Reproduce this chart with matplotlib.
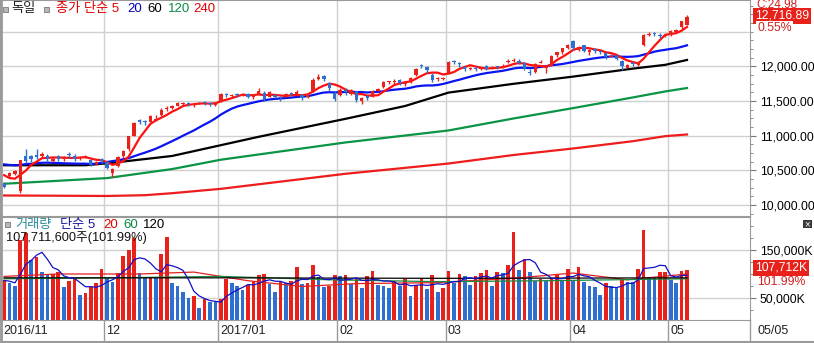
import numpy as np
import pandas as pd
import matplotlib
matplotlib.use("Agg")
import matplotlib.pyplot as plt
from matplotlib.patches import Rectangle
from matplotlib.lines import Line2D
from matplotlib.ticker import FixedLocator, MultipleLocator, FuncFormatter

plt.rcParams["font.family"] = ["Liberation Sans", "Noto Sans CJK KR"]

W, H = 814, 343

# ---- data (DAX daily, 2016-11-04 .. 2017-05-05) ----
month_labels = ["2016/11", "12", "2017/01", "02", "03", "04", "05"]
month_start = [0, 19, 40, 62, 82, 105, 123]
last_date = "05/05"

prior_close = [10624, 10577, 10523, 10414, 10580, 10504, 10631, 10645, 10701, 10711,
               10761, 10757, 10709, 10717, 10696, 10665, 10526, 10370, 10325]

open_ = [10300, 10420, 10450, 10200, 10710, 10700, 10720, 10700, 10710, 10640,
         10700, 10660, 10740, 10710, 10670, 10680, 10650, 10590, 10660,
         10620, 10460, 10560, 10700, 10800, 11000, 11220, 11210, 11200, 11230,
         11300, 11380, 11400, 11430, 11450, 11470, 11440, 11460, 11490, 11470, 11440,
         11500, 11600, 11570, 11600, 11580, 11600, 11560, 11600, 11620, 11560,
         11590, 11560, 11560, 11610, 11600, 11580, 11560, 11640, 11820, 11860,
         11760, 11620,
         11590, 11660, 11600, 11640, 11500, 11570, 11560, 11650, 11700, 11770,
         11780, 11800, 11740, 11780, 11870, 12000, 11990, 11880, 11810, 11810,
         11900, 12070, 12040, 11990, 11960, 11980, 11960, 12000, 11970, 11990,
         11990, 12060, 12080, 12080, 12050, 11920, 11920, 12050, 11980, 12010,
         12160, 12210, 12270,
         12360, 12240, 12300, 12200, 12250, 12220, 12190, 12140, 12150, 12080,
         11980, 12040, 12020, 12300, 12450, 12480, 12450, 12430,
         12450, 12500, 12560, 12600]
high = [10330, 10480, 10500, 10650, 10800, 10720, 10800, 10760, 10740, 10690,
        10720, 10710, 10760, 10730, 10700, 10720, 10660, 10640, 10680,
        10640, 10530, 10700, 10790, 11000, 11200, 11240, 11230, 11300, 11290,
        11400, 11430, 11440, 11480, 11490, 11480, 11460, 11490, 11500, 11480, 11490,
        11610, 11620, 11600, 11620, 11620, 11610, 11600, 11680, 11640, 11640,
        11600, 11570, 11620, 11630, 11660, 11600, 11610, 11830, 11890, 11870,
        11770, 11640,
        11680, 11680, 11670, 11650, 11560, 11580, 11660, 11690, 11790, 11790,
        11810, 11810, 11770, 11840, 11980, 12030, 12000, 11900, 11840, 11850,
        12080, 12090, 12060, 12000, 11990, 12000, 11990, 12020, 12010, 12010,
        12030, 12110, 12120, 12100, 12060, 11960, 12050, 12090, 12010, 12160,
        12210, 12270, 12320,
        12375, 12290, 12310, 12250, 12260, 12240, 12200, 12180, 12170, 12090,
        12030, 12070, 12080, 12470, 12490, 12500, 12480, 12470,
        12520, 12540, 12660, 12740]
low = [10240, 10400, 10430, 10174, 10600, 10620, 10660, 10680, 10630, 10620,
       10640, 10640, 10680, 10640, 10650, 10670, 10560, 10570, 10600,
       10520, 10400, 10540, 10680, 10780, 10990, 11160, 11150, 11190, 11210,
       11280, 11350, 11380, 11420, 11440, 11430, 11410, 11450, 11440, 11420, 11430,
       11480, 11560, 11540, 11560, 11570, 11540, 11530, 11580, 11500, 11550,
       11540, 11500, 11550, 11570, 11590, 11510, 11540, 11630, 11800, 11790,
       11650, 11500,
       11570, 11590, 11590, 11490, 11460, 11510, 11550, 11640, 11690, 11740,
       11750, 11730, 11720, 11760, 11860, 11970, 11900, 11780, 11790, 11800,
       11890, 12030, 11990, 11930, 11940, 11930, 11940, 11940, 11960, 11960,
       11970, 12040, 12060, 12030, 11950, 11880, 11910, 12040, 11910, 12000,
       12140, 12180, 12250,
       12240, 12220, 12200, 12160, 12190, 12180, 12100, 12130, 12090, 11950,
       11970, 12000, 12010, 12290, 12440, 12440, 12410, 12420,
       12440, 12480, 12540, 12590]
close = [10259, 10456, 10482, 10646, 10630, 10668, 10693, 10735, 10664, 10663,
         10665, 10685, 10713, 10662, 10689, 10700, 10582, 10620, 10640,
         10534, 10513, 10684, 10775, 10987, 11179, 11203, 11190, 11284, 11244,
         11366, 11404, 11427, 11464, 11468, 11456, 11449, 11472, 11475, 11451, 11481,
         11598, 11584, 11585, 11584, 11599, 11563, 11583, 11646, 11522, 11629,
         11555, 11541, 11599, 11599, 11630, 11545, 11595, 11806, 11848, 11814,
         11681, 11535,
         11659, 11627, 11651, 11509, 11549, 11543, 11643, 11666, 11774, 11771,
         11794, 11757, 11757, 11827, 11967, 11998, 11947, 11804, 11822, 11834,
         12067, 12059, 12027, 11958, 11967, 11967, 11978, 11963, 11990, 11988,
         12009, 12083, 12095, 12052, 11962, 11904, 12039, 12064, 11996, 12149,
         12203, 12257, 12313,
         12257, 12282, 12218, 12230, 12225, 12200, 12139, 12154, 12109, 12000,
         12017, 12027, 12049, 12455, 12468, 12472, 12443, 12438,
         12507, 12527, 12648, 12717]

# long price averages (bar index, value)
ma60_idx = [0, 15, 20, 31, 47, 63, 74, 82, 94, 105, 116, 122, 126]
ma60_val = [10572, 10572, 10608, 10706, 10983, 11242, 11427, 11620, 11747, 11851, 11966, 12021, 12091]
ma120_idx = [0, 19, 31, 40, 63, 82, 94, 105, 116, 122, 126]
ma120_val = [10305, 10387, 10517, 10652, 10901, 11074, 11247, 11397, 11550, 11637, 11686]
ma240_idx = [0, 19, 26, 31, 40, 63, 82, 94, 105, 116, 122, 126]
ma240_val = [10136, 10129, 10140, 10169, 10232, 10449, 10597, 10720, 10814, 10919, 10992, 11016]

# volume in thousand shares
prior_vol = [88000, 92000, 84000, 81000]
volume = [87500, 80600, 75000, 170800, 185400, 129000, 136000, 104800, 98000, 99500,
          104800, 73500, 86000, 91600, 56000, 61000, 73000, 81000, 110000,
          91600, 84000, 102700, 137500, 150000, 175000, 102700, 91600, 94400, 91600,
          141600, 177700, 80600, 75000, 63100, 49300, 54200, 29900, 47300, 42300, 41000,
          47300, 88900, 81900, 75000, 66700, 77100, 86000, 97900, 99000, 79200,
          63100, 84000, 80600, 86000, 115300, 79200, 81000, 118700, 94400, 72300,
          75000, 97900,
          96000, 97900, 79200, 88900, 71500, 95800, 106200, 77100, 76000, 71500,
          86000, 75000, 90200, 54200, 77100, 91000, 68700, 97900, 63100, 71500,
          106200, 81900, 99300, 95800, 77100, 95800, 101400, 108300, 75000, 103500,
          101400, 118700, 188100, 108300, 130600, 104800, 86000, 88900, 86000, 91000,
          100000, 86000, 109800,
          86000, 115300, 84000, 75700, 73500, 56200, 81900, 75000, 72300, 88900,
          84000, 83000, 109800, 191600, 94400, 91000, 104200, 105000,
          87500, 80600, 106900, 107712]

vma20_idx = [0, 10, 25, 35, 45, 55, 65, 80, 95, 105, 115, 126]
vma20_val = [95000, 100000, 100000, 104000, 86000, 74000, 80000, 82000, 92000, 102000, 88000, 100000]
vma60_idx = [0, 20, 40, 60, 80, 100, 126]
vma60_val = [90000, 92000, 95000, 88000, 84000, 86000, 90000]
vma120_idx = [0, 40, 80, 126]
vma120_val = [92000, 92000, 91000, 92000]

RED = "#e8211b"
BLUE = "#2f6fcf"
GRID = "#d0d0d0"
XL = (-0.75, -0.75 + 750 / 5.42)


def px_x(i):
    return (i - XL[0]) / (XL[1] - XL[0]) * 750


def ftext(x, y, s, **kw):
    kw.setdefault("fontsize", 8.8)
    kw.setdefault("va", "center")
    return fig.text(x / W, 1 - y / H, s, **kw)


fig = plt.figure(figsize=(W / 100, H / 100), dpi=100)
ax1 = fig.add_axes([0, 1 - 216 / H, 750 / W, 216 / H])
ax2 = fig.add_axes([0, 1 - 320 / H, 750 / W, 103 / H])

x = np.arange(len(close))
o = np.array(open_, float)
c = np.array(close, float)
col = np.where(c >= o, RED, BLUE)

# ---- price panel ----
ax1.set_xlim(*XL)
ax1.set_ylim(9840, 12956)
for m in month_start:
    ax1.axvline(m - 0.5, color=GRID, lw=1, zorder=0)
    ax2.axvline(m - 0.5, color=GRID, lw=1, zorder=0)
for lv in range(10000, 13000, 500):
    ax1.axhline(lv, color=GRID, lw=1, zorder=0)

ax1.plot(ma240_idx, ma240_val, color="#ee1c1c", lw=1.6)
ax1.plot(ma120_idx, ma120_val, color="#0a9444", lw=1.6)
ax1.plot(ma60_idx, ma60_val, color="black", lw=1.6)

allc = pd.Series(prior_close + close, dtype=float)
ma20 = allc.rolling(20).mean().to_numpy()[len(prior_close):]
ma5 = allc.rolling(5).mean().to_numpy()[len(prior_close):]
ax1.plot(x, ma20, color="#0a14f0", lw=1.6)
ax1.plot(x, ma5, color="#ff1010", lw=1.6)

ax1.vlines(x, low, high, colors=col, lw=1, zorder=3)
body = np.maximum(np.abs(c - o), 14)
ax1.bar(x, body, bottom=np.minimum(o, c), width=0.62, color=col, lw=0, zorder=4)

ax1.yaxis.tick_right()
ax1.yaxis.set_major_locator(FixedLocator([10000, 10500, 11000, 11500, 12000]))
ax1.yaxis.set_minor_locator(MultipleLocator(125))
ax1.yaxis.set_major_formatter(FuncFormatter(lambda v, p: f"{v:,.2f}"))
ax1.tick_params(axis="y", which="major", length=4, labelsize=8.8, pad=3, color="#777")
ax1.tick_params(axis="y", which="minor", length=2.5, color="#777")
ax1.set_xticks([])

# ---- volume panel ----
v = np.array(volume, float)
pv = np.array(prior_vol[-1:] + volume, float)
vcol = np.where(v >= pv[:-1], RED, BLUE)
ax2.set_xlim(*XL)
ax2.set_ylim(4200, 218700)
for lv in (50000, 150000):
    ax2.axhline(lv, color=GRID, lw=1, zorder=0)
ax2.bar(x, v, width=0.68, color=vcol, lw=0, zorder=2)
allv = pd.Series(prior_vol + volume, dtype=float)
vma5 = allv.rolling(5).mean().to_numpy()[len(prior_vol):]
ax2.plot(vma20_idx, vma20_val, color="#e02020", lw=0.9, zorder=3)
ax2.plot(vma60_idx, vma60_val, color="#1a8a3a", lw=0.9, zorder=3)
ax2.plot(vma120_idx, vma120_val, color="black", lw=0.9, zorder=3)
ax2.plot(x, vma5, color="#1010c8", lw=0.9, zorder=3)

ax2.yaxis.tick_right()
ax2.yaxis.set_major_locator(FixedLocator([50000, 150000]))
ax2.yaxis.set_minor_locator(MultipleLocator(25000))
ax2.yaxis.set_major_formatter(FuncFormatter(lambda v, p: f"{v:,.0f}K"))
ax2.tick_params(axis="y", which="major", length=4, labelsize=8.8, pad=3, color="#777")
ax2.tick_params(axis="y", which="minor", length=2.5, color="#777")
ax2.set_xticks([])

for ax in (ax1, ax2):
    for s in ax.spines.values():
        s.set_color("#9a9a9a")
    ax.spines["left"].set_linewidth(2)

# ---- legends ----
fig.patches.append(Rectangle((3 / W, 1 - 12 / H), 5 / W, 5 / H, transform=fig.transFigure,
                             facecolor="#b8b8b8", edgecolor="#777", lw=0.6))
fig.patches.append(Rectangle((44 / W, 1 - 12 / H), 5 / W, 5 / H, transform=fig.transFigure,
                             facecolor="#b8b8b8", edgecolor="#777", lw=0.6))
ftext(11, 9, "독일", color="#222", fontsize=9.5)
ftext(56, 9, "종가 단순 5", color="#e00000", fontsize=9.5)
ftext(127, 9, "20", color="#0000c0", fontsize=9.5)
ftext(147, 9, "60", color="black", fontsize=9.5)
ftext(168, 9, "120", color="#0a8a44", fontsize=9.5)
ftext(193, 9, "240", color="#e00000", fontsize=9.5)

fig.patches.append(Rectangle((5 / W, 1 - 227 / H), 5 / W, 5 / H, transform=fig.transFigure,
                             facecolor="#b8b8b8", edgecolor="#777", lw=0.6))
ftext(15, 225, "거래량", color="#2a8a96", fontsize=9.5)
ftext(60, 225, "단순 5", color="#1a1aa0", fontsize=9.5)
ftext(103, 225, "20", color="#e00000", fontsize=9.5)
ftext(123, 225, "60", color="#0a8a44", fontsize=9.5)
ftext(143, 225, "120", color="black", fontsize=9.5)
ftext(6, 238, "107,711,600주(101.99%)", color="#111", fontsize=9.2)

# ---- right-side current value boxes ----
ftext(756, 5, "C:24.98", color="#d02020", fontsize=8.5)
ftext(755, 16, "12,716.89", color="white", fontsize=8.8,
      bbox=dict(boxstyle="square,pad=0.15", facecolor="#e8211b", edgecolor="none"))
ftext(757, 28, "0.55%", color="#d02020", fontsize=8.8,
      bbox=dict(boxstyle="square,pad=0.1", facecolor="white", edgecolor="none"))
ftext(755, 268, "107,712K", color="white", fontsize=8.8,
      bbox=dict(boxstyle="square,pad=0.15", facecolor="#e8211b", edgecolor="none"))
ftext(757, 282, "101.99%", color="#d02020", fontsize=8.8)
fig.patches.append(Rectangle((803 / W, 1 - 228 / H), 9 / W, 8 / H, transform=fig.transFigure,
                             facecolor="#3a3a3a", edgecolor="none"))
ftext(807.5, 224, "×", color="white", fontsize=7, ha="center")

# ---- date strip ----
for m, lab in zip(month_start, month_labels):
    xp = max(px_x(m - 0.5), 1)
    fig.add_artist(Line2D([xp / W, xp / W], [1 - 320 / H, 1 - 341 / H], color="#9a9a9a", lw=1))
    ftext(xp + 2, 331, lab, color="#222", fontsize=9)
fig.add_artist(Line2D([750 / W, 750 / W], [1 - 320 / H, 1 - 341 / H], color="#9a9a9a", lw=1))
ftext(757, 331, last_date, color="#222", fontsize=9)
fig.add_artist(Line2D([0, 1], [1 - 341.5 / H, 1 - 341.5 / H], color="#9a9a9a", lw=1.5))
fig.add_artist(Line2D([0.5 / W, 0.5 / W], [0, 1], color="#9a9a9a", lw=2))

fig.savefig("out.png", dpi=100)
plt.close(fig)
